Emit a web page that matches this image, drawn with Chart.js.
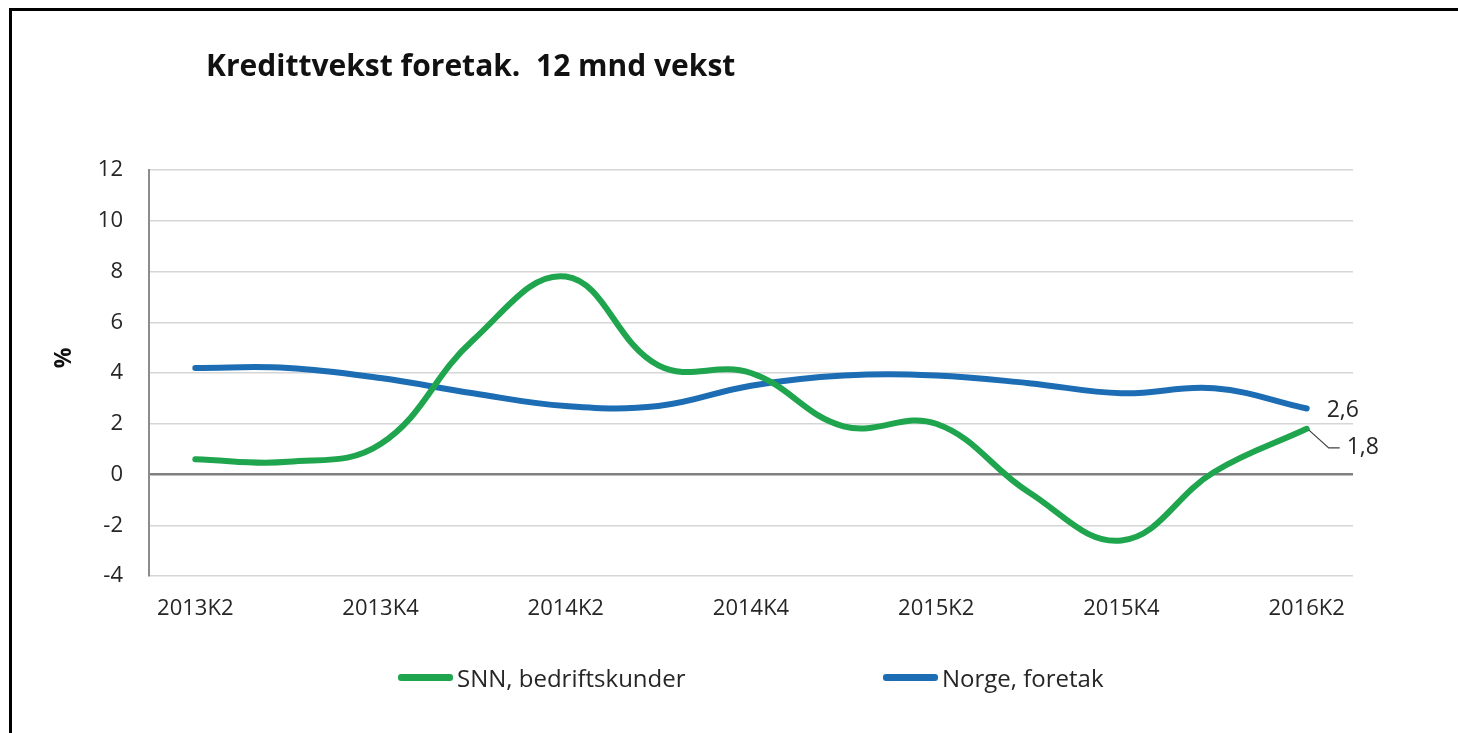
<!DOCTYPE html>
<html>
<head>
<meta charset="utf-8">
<script src="https://cdn.jsdelivr.net/npm/chart.js@4.4.1/dist/chart.umd.min.js"></script>
<style>
  html, body { margin: 0; padding: 0; background: #fff; }
  #wrap { position: relative; width: 1458px; height: 733px; overflow: hidden; font-family: "Open Sans", sans-serif; }
  #frame { position: absolute; left: 9px; top: 8px; right: -10px; bottom: -10px; border-left: 3px solid #000; border-top: 3px solid #000; }
  #title { position: absolute; left: 206px; top: 44px; font-size: 30px; font-weight: bold; color: #111; white-space: nowrap; }
  #ylab { position: absolute; left: 62px; top: 358px; transform: translate(-50%, -50%) rotate(-90deg); font-size: 23px; font-weight: bold; color: #111; }
  .leg { position: absolute; top: 661px; display: flex; align-items: center; font-size: 24px; color: #262626; white-space: nowrap; }
  .leg span.ln { display: inline-block; width: 55px; height: 7px; border-radius: 3px; margin-right: 4px; }
  canvas { position: absolute; left: 0; top: 0; }
</style>
</head>
<body>
<div id="wrap">
  <canvas id="chart" width="1458" height="733"></canvas>
  <div id="frame"></div>
  <div id="title">Kredittvekst foretak.&nbsp; 12 mnd vekst</div>
  <div id="ylab">%</div>
  <div class="leg" style="left:398px"><span class="ln" style="background:#1fa54d"></span>SNN, bedriftskunder</div>
  <div class="leg" style="left:883px"><span class="ln" style="background:#1c6db4"></span>Norge, foretak</div>
</div>
<script>
// kvartaler og 12 mnd vekst (%)
const categories = ["2013K2", "2013K3", "2013K4", "2014K1", "2014K2", "2014K3", "2014K4",
                    "2015K1", "2015K2", "2015K3", "2015K4", "2016K1", "2016K2"];
const snnValues = [0.6, 0.5, 1.2, 5.3, 7.8, 4.3, 4.0, 1.9, 2.0, -0.7, -2.6, 0.1, 1.8];
const norgeValues = [4.2, 4.2, 3.8, 3.2, 2.7, 2.7, 3.5, 3.9, 3.9, 3.6, 3.2, 3.4, 2.6];
const seriesNames = ["SNN, bedriftskunder", "Norge, foretak"];
const yMin = -4;
const yMax = 12;
const yStep = 2;

const fmt = v => v.toFixed(1).replace(".", ",");

// verdietiketter på siste punkt
const endLabels = {
    id: "endLabels",
    afterDatasetsDraw(chart) {
        const ctx = chart.ctx;
        const last = categories.length - 1;
        const pBlue = chart.getDatasetMeta(1).data[last];
        const pGreen = chart.getDatasetMeta(0).data[last];
        ctx.save();
        ctx.font = "23px 'Open Sans', sans-serif";
        ctx.fillStyle = "#262626";
        ctx.textBaseline = "middle";
        ctx.textAlign = "left";
        ctx.fillText(fmt(norgeValues[last]), pBlue.x + 20, pBlue.y + 2);

        // ledelinje for SNN
        ctx.strokeStyle = "#404040";
        ctx.lineWidth = 1.2;
        ctx.beginPath();
        ctx.moveTo(pGreen.x + 2, pGreen.y + 1);
        ctx.lineTo(pGreen.x + 22, pGreen.y + 19);
        ctx.lineTo(pGreen.x + 33, pGreen.y + 19);
        ctx.stroke();
        ctx.fillText(fmt(snnValues[last]), pGreen.x + 40, pGreen.y + 19);
        ctx.restore();
    }
};

const ctx = document.getElementById("chart").getContext("2d");
new Chart(ctx, {
    type: "line",
    data: {
        labels: categories,
        datasets: [{
            label: seriesNames[0],
            data: snnValues,
            borderColor: "#1fa54d",
            borderWidth: 6,
            tension: 0.4,
            pointRadius: 0,
            borderCapStyle: "round"
        }, {
            label: seriesNames[1],
            data: norgeValues,
            borderColor: "#1c6db4",
            borderWidth: 6,
            tension: 0.4,
            pointRadius: 0,
            borderCapStyle: "round"
        }]
    },
    options: {
        responsive: false,
        animation: false,
        layout: { padding: { left: 0, top: 170, right: 105, bottom: 97 } },
        plugins: {
            legend: { display: false },
            tooltip: { enabled: false }
        },
        scales: {
            x: {
                offset: true,
                grid: { display: false, drawTicks: false },
                border: { display: false },
                afterFit: s => { s.height = 60; },
                ticks: {
                    autoSkip: false,
                    maxRotation: 0,
                    padding: 20,
                    color: "#262626",
                    font: { family: "'Open Sans', sans-serif", size: 22 },
                    callback: (v, i) => (i % 2 === 0 ? categories[i] : "")
                }
            },
            y: {
                min: yMin,
                max: yMax,
                afterFit: s => { s.width = 149; },
                grid: {
                    drawTicks: false,
                    color: c => (c.tick && c.tick.value === 0 ? "#7f7f7f" : "#d6d6d6"),
                    lineWidth: c => (c.tick && c.tick.value === 0 ? 2.5 : 1.5)
                },
                border: { display: true, color: "#8c8c8c", width: 2 },
                ticks: {
                    stepSize: yStep,
                    padding: 26,
                    color: "#262626",
                    font: { family: "'Open Sans', sans-serif", size: 22 }
                }
            }
        }
    },
    plugins: [endLabels]
});
</script>
</body>
</html>
